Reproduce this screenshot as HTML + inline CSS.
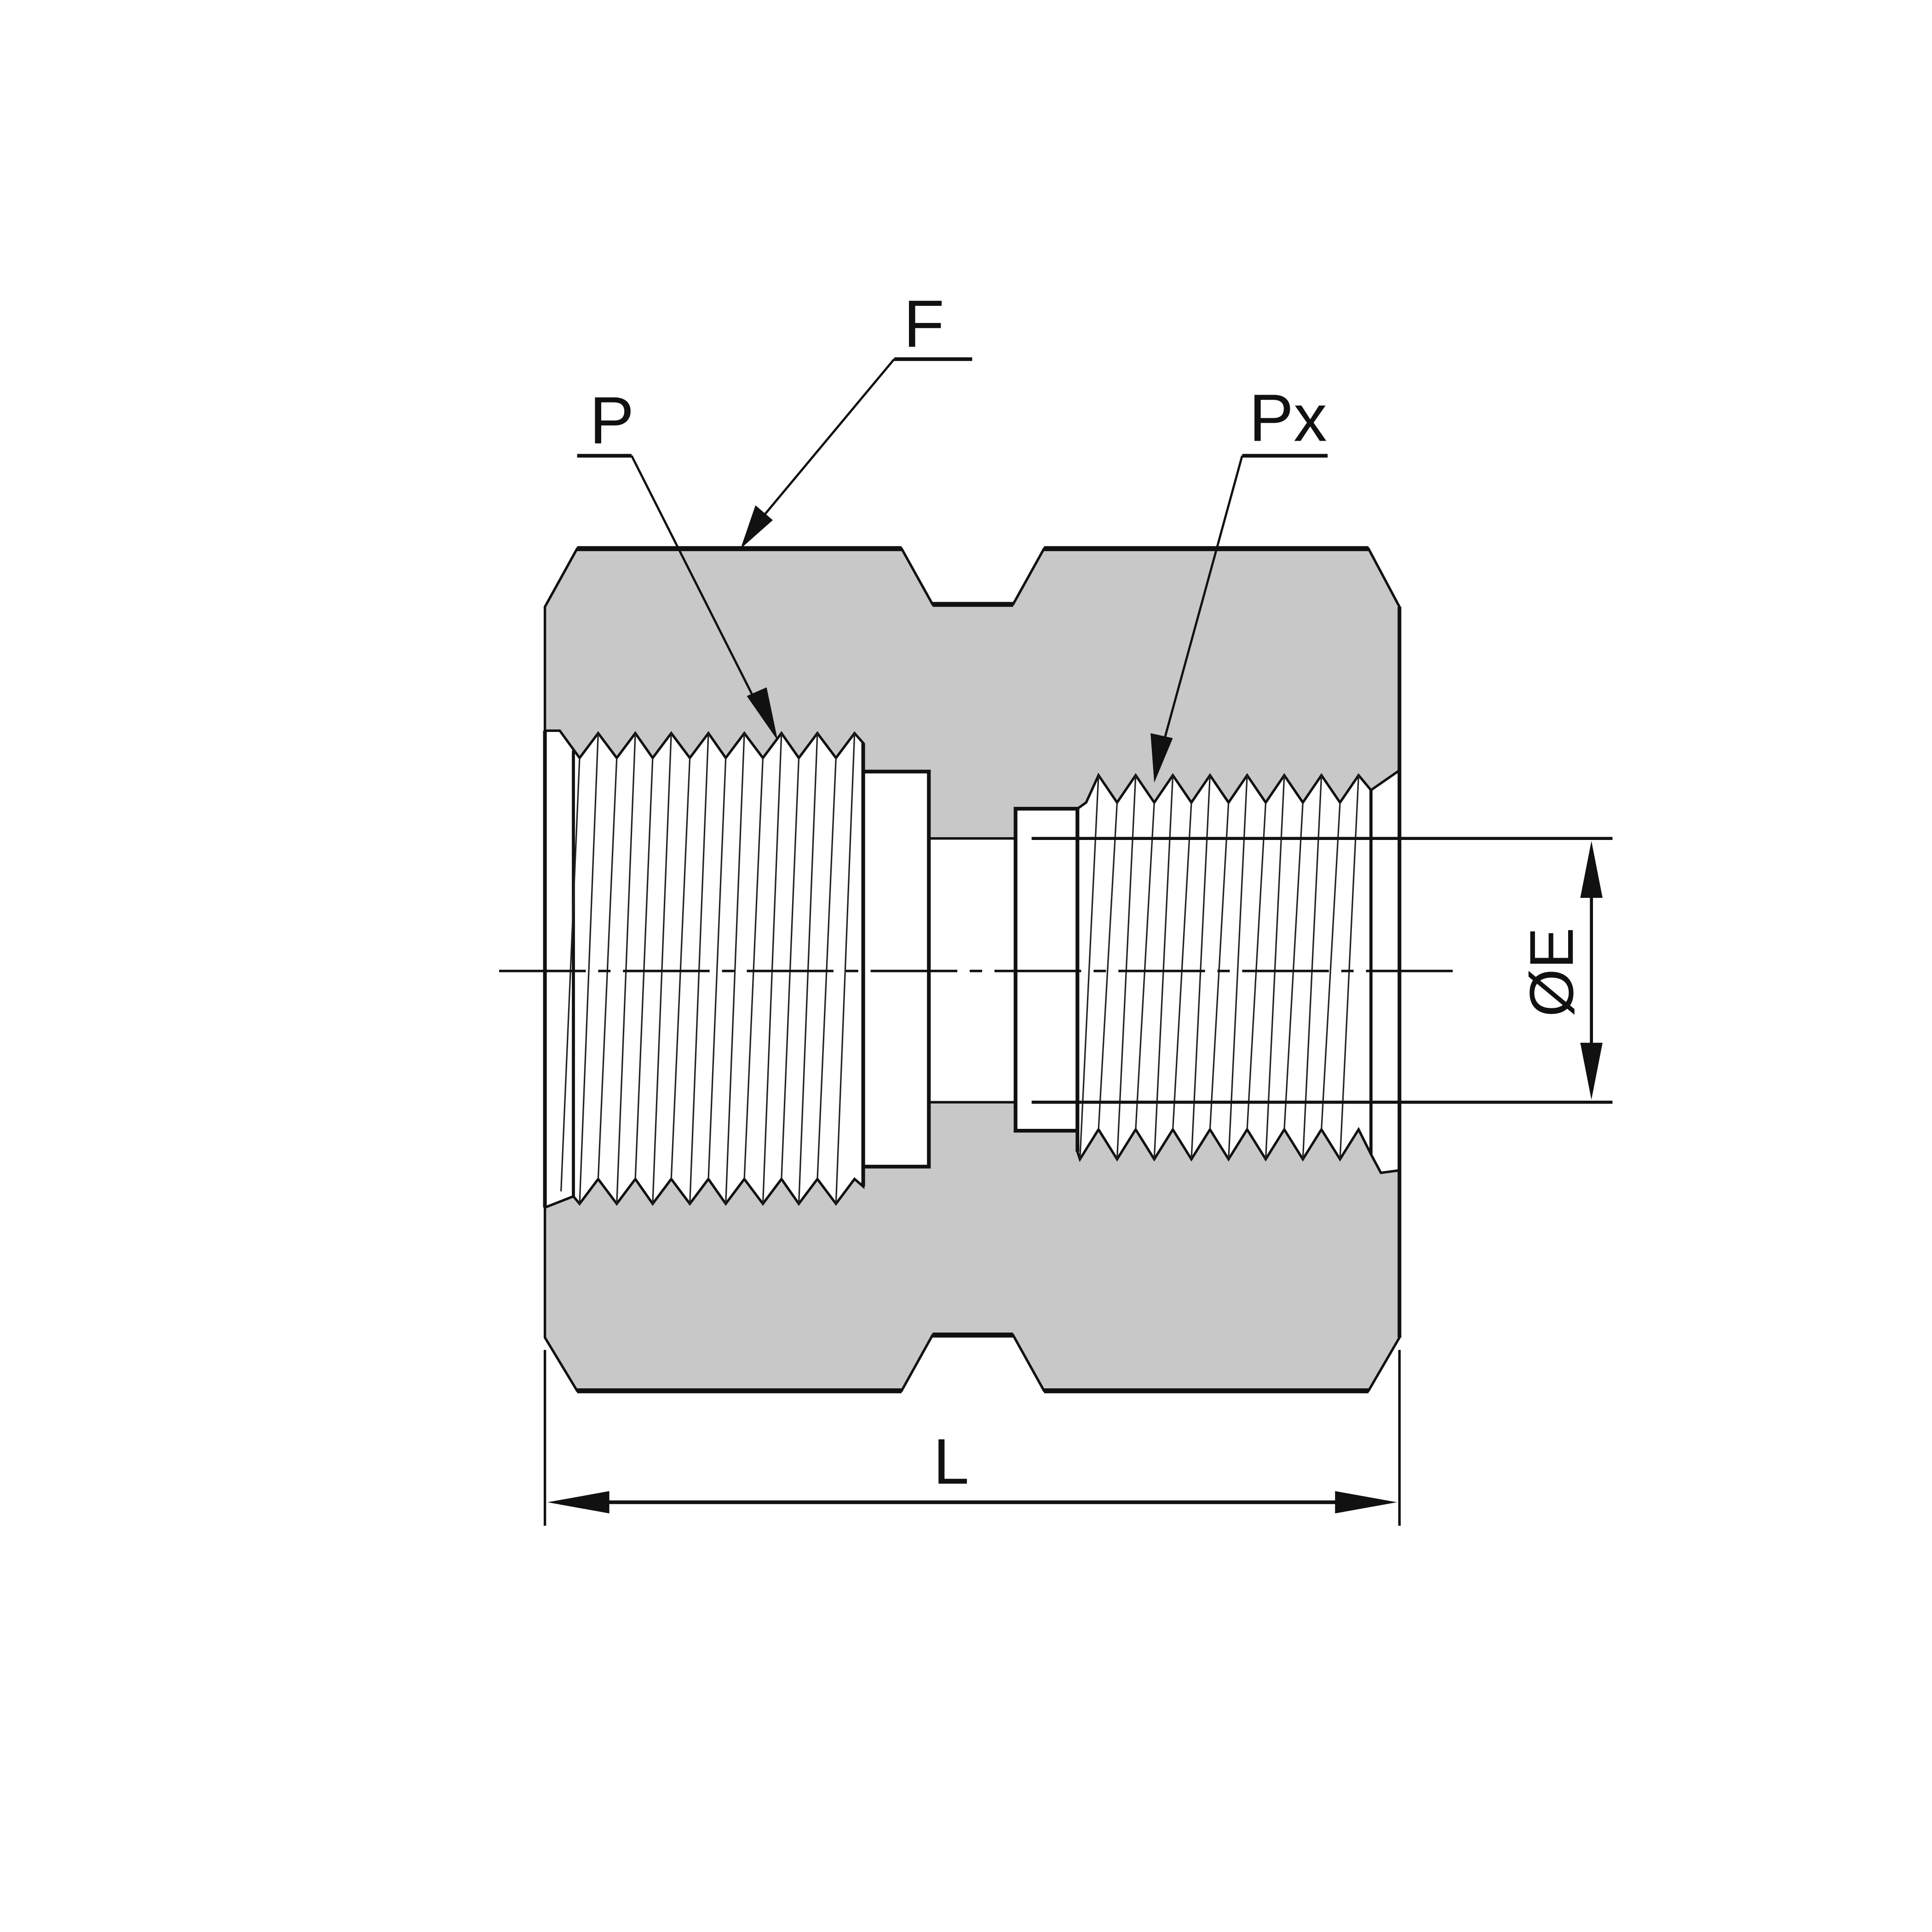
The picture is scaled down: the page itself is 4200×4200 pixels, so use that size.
<!DOCTYPE html>
<html><head><meta charset="utf-8"><style>html,body{margin:0;padding:0;background:#fff}svg{display:block}</style></head>
<body>
<svg width="4200" height="4200" viewBox="0 0 1560 1560" xmlns="http://www.w3.org/2000/svg">
<rect width="1560" height="1560" fill="#fff"/>
<!-- body -->
<path d="M440,490 L466,443 L728,443 L753,488 L818,488 L843,443 L1105,443 L1130,490 L1130,1080 L1105,1123 L843,1123 L818,1078 L753,1078 L728,1123 L466,1123 L440,1080 Z" fill="#c8c8c8" stroke="#111" stroke-width="2"/>
<g stroke="#111" stroke-width="4" fill="none">
<line x1="466" y1="443" x2="728" y2="443"/><line x1="843" y1="443" x2="1105" y2="443"/>
<line x1="753" y1="488" x2="818" y2="488"/><line x1="753" y1="1078" x2="818" y2="1078"/>
<line x1="466" y1="1123" x2="728" y2="1123"/><line x1="843" y1="1123" x2="1105" y2="1123"/>
</g>
<!-- bore -->
<rect x="750" y="677" width="70" height="213" fill="#fff" stroke="#111" stroke-width="2"/>
<rect x="697" y="623" width="53" height="319" fill="#fff" stroke="#111" stroke-width="3"/>
<rect x="820" y="653" width="50" height="260" fill="#fff" stroke="#111" stroke-width="3"/>
<!-- left thread -->
<polygon points="440,590 452,590 468,612 483,592 498,612 513,592 527,612 542,592 557,612 572,592 586,612 601,592 616,612 631,592 645,612 660,592 675,612 690,592 697,600 697,958 690,952 675,972 660,952 645,972 631,952 616,972 601,952 586,972 572,952 557,972 542,952 527,972 513,952 498,972 483,952 468,972 463,966 440,975" fill="#fff" stroke="#111" stroke-width="2"/>
<line x1="440" y1="590" x2="440" y2="975" stroke="#111" stroke-width="3"/>
<line x1="463" y1="606" x2="463" y2="966" stroke="#111" stroke-width="2.5"/>
<line x1="697" y1="600" x2="697" y2="958" stroke="#111" stroke-width="3"/>
<g stroke="#222" stroke-width="1.2">
<line x1="468" y1="612" x2="453" y2="962"/>
<line x1="483" y1="592" x2="468" y2="972"/><line x1="498" y1="612" x2="483" y2="952"/>
<line x1="513" y1="592" x2="498" y2="972"/><line x1="527" y1="612" x2="513" y2="952"/>
<line x1="542" y1="592" x2="527" y2="972"/><line x1="557" y1="612" x2="542" y2="952"/>
<line x1="572" y1="592" x2="557" y2="972"/><line x1="586" y1="612" x2="572" y2="952"/>
<line x1="601" y1="592" x2="586" y2="972"/><line x1="616" y1="612" x2="601" y2="952"/>
<line x1="631" y1="592" x2="616" y2="972"/><line x1="645" y1="612" x2="631" y2="952"/>
<line x1="660" y1="592" x2="645" y2="972"/><line x1="675" y1="612" x2="660" y2="952"/>
<line x1="690" y1="592" x2="675" y2="972"/>
</g>
<!-- right thread -->
<polygon points="870,653 877,648 887,626 902,648 917,626 932,648 947,626 962,648 977,626 992,648 1007,626 1022,648 1037,626 1052,648 1067,626 1082,648 1097,626 1107,638 1130,622 1130,945 1115,947 1107,932 1097,912 1082,936 1067,912 1052,936 1037,912 1022,936 1007,912 992,936 977,912 962,936 947,912 932,936 917,912 902,936 887,912 872,936 870,930" fill="#fff" stroke="#111" stroke-width="2"/>
<line x1="870" y1="653" x2="870" y2="930" stroke="#111" stroke-width="3"/>
<line x1="1107" y1="638" x2="1107" y2="932" stroke="#111" stroke-width="2.5"/>
<line x1="1130" y1="490" x2="1130" y2="1080" stroke="#111" stroke-width="3"/>
<g stroke="#222" stroke-width="1.2">
<line x1="887" y1="626" x2="872" y2="936"/><line x1="902" y1="648" x2="887" y2="912"/>
<line x1="917" y1="626" x2="902" y2="936"/><line x1="932" y1="648" x2="917" y2="912"/>
<line x1="947" y1="626" x2="932" y2="936"/><line x1="962" y1="648" x2="947" y2="912"/>
<line x1="977" y1="626" x2="962" y2="936"/><line x1="992" y1="648" x2="977" y2="912"/>
<line x1="1007" y1="626" x2="992" y2="936"/><line x1="1022" y1="648" x2="1007" y2="912"/>
<line x1="1037" y1="626" x2="1022" y2="936"/><line x1="1052" y1="648" x2="1037" y2="912"/>
<line x1="1067" y1="626" x2="1052" y2="936"/><line x1="1082" y1="648" x2="1067" y2="912"/>
<line x1="1097" y1="626" x2="1082" y2="936"/>
</g>
<!-- centerline -->
<line x1="403" y1="784" x2="1175" y2="784" stroke="#111" stroke-width="2" stroke-dasharray="70,10,10,10"/>
<!-- E dimension -->
<g stroke="#111" stroke-width="2.5">
<line x1="833" y1="677" x2="1302" y2="677"/>
<line x1="833" y1="890" x2="1302" y2="890"/>
<line x1="1285" y1="720" x2="1285" y2="850"/>
</g>
<polygon points="1285,679 1276,725 1294,725" fill="#111"/>
<polygon points="1285,888 1276,842 1294,842" fill="#111"/>
<text transform="translate(1270,785) rotate(-90)" text-anchor="middle" font-family="Liberation Sans, sans-serif" font-size="50" fill="#111">ØE</text>
<!-- L dimension -->
<g stroke="#111" stroke-width="2">
<line x1="440" y1="1090" x2="440" y2="1232"/>
<line x1="1130" y1="1090" x2="1130" y2="1232"/>
</g>
<line x1="480" y1="1213" x2="1090" y2="1213" stroke="#111" stroke-width="3"/>
<polygon points="442,1213 492,1204 492,1222" fill="#111"/>
<polygon points="1128,1213 1078,1204 1078,1222" fill="#111"/>
<text x="768" y="1198" text-anchor="middle" font-family="Liberation Sans, sans-serif" font-size="52" fill="#111">L</text>
<!-- leaders -->
<g stroke="#111" fill="none">
<line x1="466" y1="368" x2="510" y2="368" stroke-width="3"/>
<line x1="510" y1="368" x2="616" y2="578" stroke-width="1.8"/>
<line x1="722" y1="290" x2="785" y2="290" stroke-width="3"/>
<line x1="722" y1="290" x2="612" y2="422" stroke-width="1.8"/>
<line x1="1003" y1="368" x2="1072" y2="368" stroke-width="3"/>
<line x1="1003" y1="368" x2="938" y2="605" stroke-width="1.8"/>
</g>
<polygon points="628,598 603,562 619,555" fill="#111"/>
<polygon points="598,443 610,408 624,420" fill="#111"/>
<polygon points="932,632 929,592 947,596" fill="#111"/>
<g font-family="Liberation Sans, sans-serif" font-size="54" fill="#111" text-anchor="middle">
<text x="494" y="358">P</text>
<text x="746" y="280">F</text>
<text x="1040" y="356">Px</text>
</g>
</svg>
</body></html>
